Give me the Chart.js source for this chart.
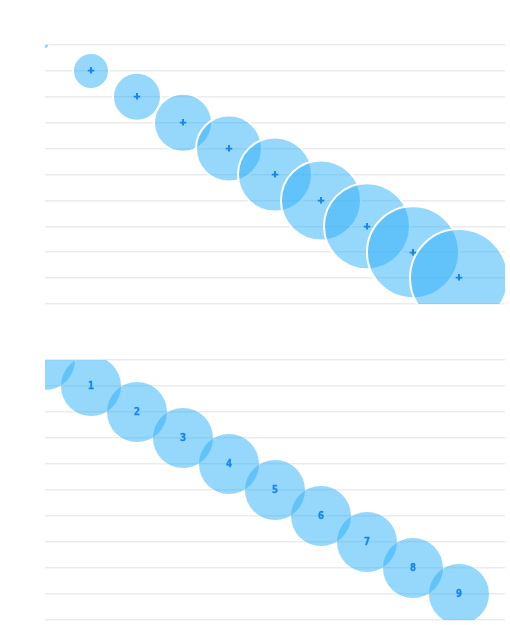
<!doctype html>
<html lang="en">
<head>
  <meta charset="utf-8">
  <title>Bubbles</title>
  <script src="https://cdn.jsdelivr.net/npm/chart.js"></script>
  <style>
    html, body { margin: 0; padding: 0; background: #fff; overflow: hidden; }
    .box { position: relative; width: 510px; }
  </style>
</head>
<body>
  <div class="box" style="height:312px"><canvas id="top-chart"></canvas></div>
  <div class="box" style="height:313px"><canvas id="bottom-chart"></canvas></div>

<script>
var xValues = [0, 1, 2, 3, 4, 5, 6, 7, 8, 9];
var yValues = [0, 1, 2, 3, 4, 5, 6, 7, 8, 9];
var topRadius = [4, 18, 24, 29, 33, 37, 40, 43, 46, 49];
var bottomRadius = [30, 30, 30, 30, 30, 30, 30, 30, 30, 30];
var topLabels = ['', '+', '+', '+', '+', '+', '+', '+', '+', '+'];
var bottomLabels = ['', '1', '2', '3', '4', '5', '6', '7', '8', '9'];

function points(radius) {
  var out = [];
  for (var i = 0; i < xValues.length; i++) {
    out.push({ x: xValues[i], y: yValues[i], r: radius[i] });
  }
  return out;
}

// draws the text in the middle of each bubble, clipped to the chart area
var centerLabels = {
  id: 'centerLabels',
  afterDatasetsDraw: function(chart, args, opts) {
    var ctx = chart.ctx;
    var area = chart.chartArea;
    var meta = chart.getDatasetMeta(0);
    ctx.save();
    ctx.beginPath();
    ctx.rect(area.left, area.top, area.right - area.left, area.bottom - area.top);
    ctx.clip();
    ctx.fillStyle = opts.color;
    ctx.strokeStyle = opts.color;
    ctx.lineWidth = opts.stroke;
    ctx.font = opts.font;
    ctx.textAlign = 'center';
    ctx.textBaseline = 'middle';
    meta.data.forEach(function(el, i) {
      if (!opts.labels[i]) return;
      ctx.fillText(opts.labels[i], el.x, el.y);
      if (opts.stroke) ctx.strokeText(opts.labels[i], el.x, el.y);
    });
    ctx.restore();
  }
};

function makeChart(id, radius, labels, border, font, stroke, pad) {
  return new Chart(document.getElementById(id), {
    type: 'bubble',
    data: {
      datasets: [{
        data: points(radius),
        backgroundColor: 'rgba(45, 175, 250, 0.5)',
        borderColor: border ? '#ffffff' : 'rgba(0,0,0,0)',
        borderWidth: border ? 2 : 0,
        clip: 0
      }]
    },
    options: {
      responsive: true,
      maintainAspectRatio: false,
      animation: false,
      layout: { autoPadding: false, padding: pad },
      plugins: {
        legend: { display: false },
        tooltip: { enabled: false },
        centerLabels: { labels: labels, color: '#1786ec', font: font, stroke: stroke }
      },
      scales: {
        x: { min: 0, max: 10, display: false },
        y: {
          min: 0, max: 10, reverse: true,
          ticks: { display: false, stepSize: 1 },
          border: { display: false },
          grid: { color: 'rgba(0,0,0,0.08)', lineWidth: 1.5, drawTicks: false }
        }
      }
    },
    plugins: [centerLabels]
  });
}

makeChart('top-chart', topRadius, topLabels, true, 'bold 9px "DejaVu Sans"', 0.9,
  { left: 45, top: 45, right: 5, bottom: 8 });
makeChart('bottom-chart', bottomRadius, bottomLabels, false, 'bold 10px "DejaVu Sans Mono"', 0.4,
  { left: 45, top: 48, right: 5, bottom: 5 });
</script>
</body>
</html>
